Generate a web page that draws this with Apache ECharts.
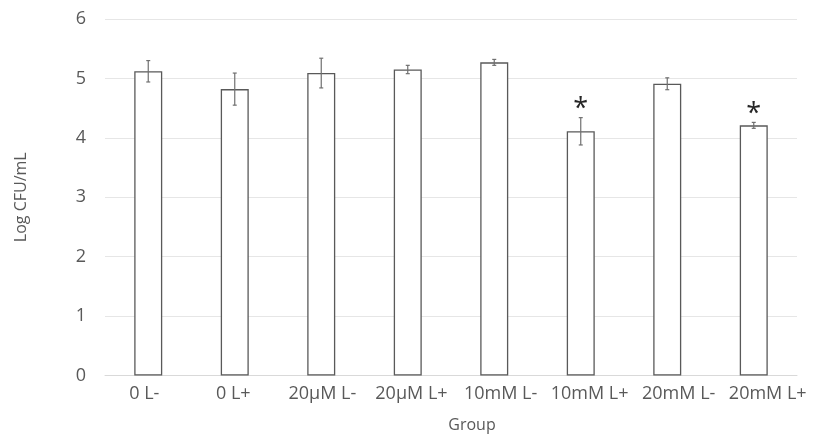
<!DOCTYPE html>
<html><head><meta charset="utf-8">
<script src="https://cdn.jsdelivr.net/npm/echarts@6/dist/echarts.min.js"></script>
<style>html,body{margin:0;padding:0;background:#fff}#c{width:813px;height:438px}</style>
</head><body><div id="c"></div>
<script>
var categories = ['0 L-', '0 L+', '20\u03bcM L-', '20\u03bcM L+', '10mM L-', '10mM L+', '20mM L-', '20mM L+'];
var means = [5.12, 4.82, 5.09, 5.15, 5.27, 4.11, 4.91, 4.21];
var errors = [0.18, 0.27, 0.25, 0.07, 0.05, 0.23, 0.10, 0.05];
var marks = ['', '', '', '', '', '*', '', '*'];
var yTicks = [0, 1, 2, 3, 4, 5, 6];

var FONT = 'Open Sans';
var TXT = '#595959';
var chart = echarts.init(document.getElementById('c'));
var errData = means.map(function (m, i) { return [i, m - errors[i], m + errors[i], marks[i]]; });
chart.setOption({
  animation: false,
  grid: [
    { left: 105, right: 16, top: 19, bottom: 62.5, containLabel: false },
    { left: 99.7, right: 0.7, top: 19, bottom: 62.5, containLabel: false }
  ],
  xAxis: [
    {
      type: 'category', data: categories, gridIndex: 0,
      axisLine: { show: true, lineStyle: { color: '#d9d9d9' } },
      axisTick: { show: false },
      axisLabel: { show: false }
    },
    {
      type: 'category', data: categories, gridIndex: 1,
      name: 'Group', nameLocation: 'middle', nameGap: 43,
      nameTextStyle: { fontFamily: FONT, fontSize: 16, color: TXT, padding: [0, 0, 0, 32] },
      axisLine: { show: false }, axisTick: { show: false }, splitLine: { show: false },
      axisLabel: { fontFamily: FONT, fontSize: 18, color: TXT, margin: 11, interval: 0 }
    }
  ],
  yAxis: [
    {
      type: 'value', gridIndex: 0, min: yTicks[0], max: yTicks[yTicks.length - 1], interval: 1,
      name: 'Log CFU/mL', nameLocation: 'middle', nameGap: 76,
      nameTextStyle: { fontFamily: FONT, fontSize: 16, color: TXT },
      axisLine: { show: false }, axisTick: { show: false },
      splitLine: { lineStyle: { color: '#e6e6e6' } },
      axisLabel: { fontFamily: FONT, fontSize: 18, color: TXT, margin: 19 }
    },
    {
      type: 'value', gridIndex: 1, min: 0, max: 6, interval: 1, show: false
    }
  ],
  series: [
    {
      type: 'bar', data: means, barWidth: 28, xAxisIndex: 0, yAxisIndex: 0,
      itemStyle: { color: '#ffffff', borderColor: '#595959', borderWidth: 1.3 }
    },
    {
      type: 'custom', data: errData, z: 10, xAxisIndex: 0, yAxisIndex: 0,
      renderItem: function (params, api) {
        var x = api.value(0);
        var lo = api.coord([x, api.value(1)]);
        var hi = api.coord([x, api.value(2)]);
        var cap = 2;
        var st = { stroke: '#707070', lineWidth: 1.2 };
        var children = [
          { type: 'line', shape: { x1: hi[0], y1: hi[1], x2: lo[0], y2: lo[1] }, style: st },
          { type: 'line', shape: { x1: hi[0] - cap, y1: hi[1], x2: hi[0] + cap, y2: hi[1] }, style: st },
          { type: 'line', shape: { x1: lo[0] - cap, y1: lo[1], x2: lo[0] + cap, y2: lo[1] }, style: st }
        ];
        var mk = marks[params.dataIndex];
        if (mk) {
          children.push({ type: 'text', style: { text: mk, x: hi[0], y: hi[1] - 8.5, align: 'center', verticalAlign: 'middle', fontFamily: FONT, fontSize: 27, fill: '#262626' } });
        }
        return { type: 'group', children: children };
      }
    }
  ]
});
</script></body></html>
